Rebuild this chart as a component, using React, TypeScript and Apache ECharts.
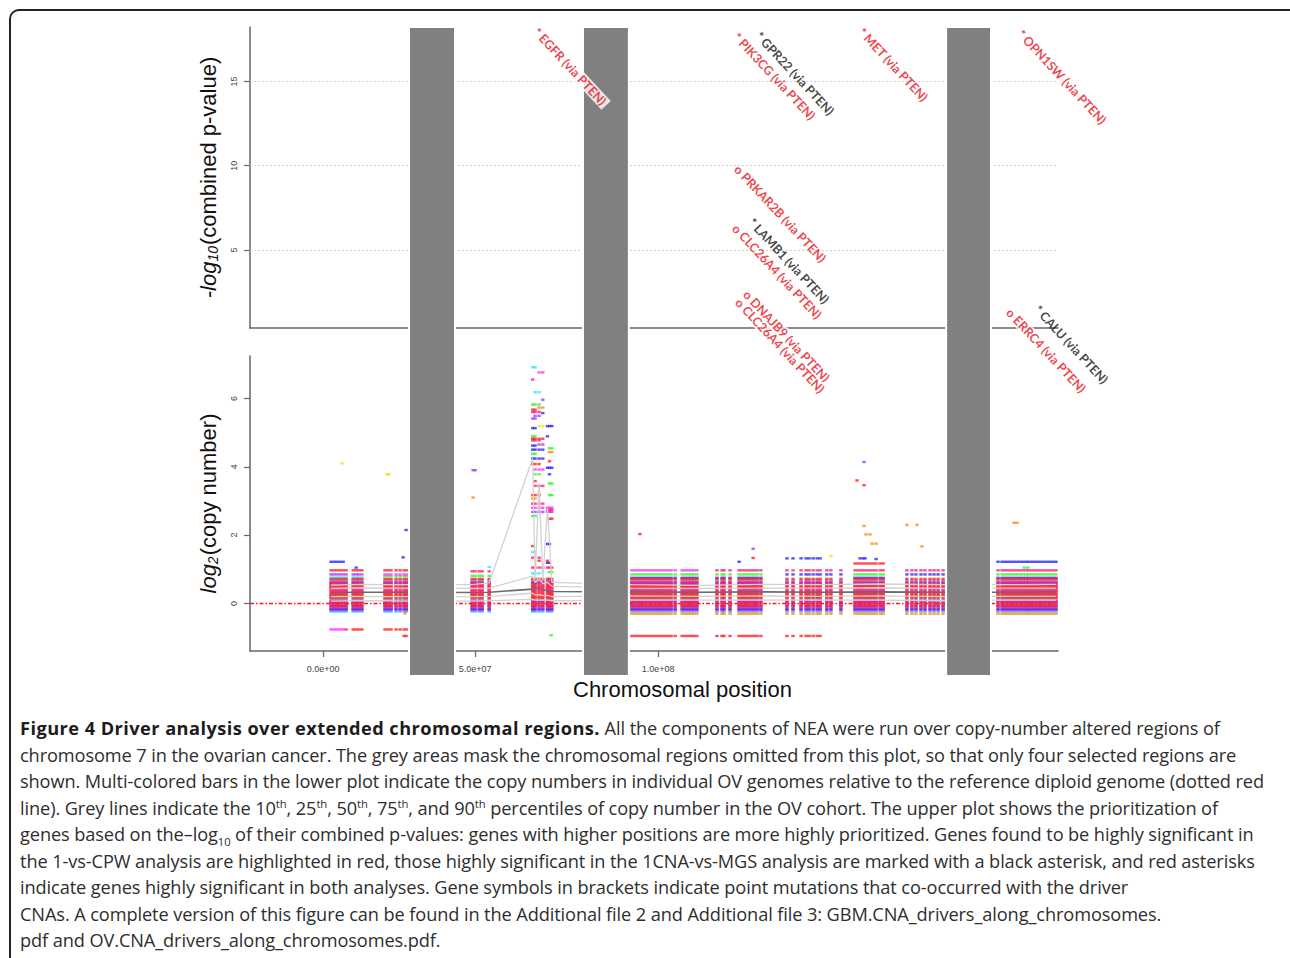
import React, { useEffect, useRef } from "react";
import * as echarts from "echarts";

const FONT = "'Liberation Sans', Arial, sans-serif";

// ---- colour codes used for individual genomes ----
const COLOR_CODES = ["c", "v", "b", "g", "y", "o", "m", "p", "r"];
const COLOR_VALUES = ["#2ee8ff", "#a838ff", "#2b2bff", "#33f533", "#f2e600", "#ff8a1c", "#ff33ff", "#ff1f7a", "#ff2424"];

// ---- axes ----
const X_MIN = -21.8;
const X_MAX = 219.4;
const X_TICK_VALUES = [0, 45.4, 100];
const X_TICK_LABELS = ["0.0e+00", "5.0e+07", "1.0e+08"];
const P_MIN = 0.36;
const P_MAX = 18.24;
const P_TICKS = [5, 10, 15];
const CN_MIN = -1.39;
const CN_MAX = 7.24;
const CN_TICKS = [0, 2, 4, 6];
const MASK_RANGES: [number, number][] = [[25.67, 39.4], [77.6, 91.3], [186.0, 199.4]];

// ---- upper plot: prioritised genes ----
const GENE_LABELS = [
  "* EGFR (via PTEN)", "* GPR22 (via PTEN)", "* PIK3CG (via PTEN)", "* MET (via PTEN)",
  "* OPN1SW (via PTEN)", "o PRKAR2B (via PTEN)", "* LAMB1 (via PTEN)", "o CLC26A4 (via PTEN)",
  "o DNAJB9 (via PTEN)", "o CLC26A4 (via PTEN)", "* CALU (via PTEN)", "o ERRC4 (via PTEN)",
];
const GENE_POS = [62.7, 129.0, 122.4, 159.7, 207.2, 122.7, 126.9, 122.1, 125.4, 123.0, 212.2, 203.9];
const GENE_SCORE = [18.2, 17.96, 17.9, 18.2, 18.08, 10.04, 6.89, 6.53, 2.6, 2.13, 1.71, 1.53];
const GENE_CLASS = ["red", "black", "red", "red", "red", "red", "black", "red", "red", "red", "black", "red"];
const GENE_BOX = [true, false, false, false, false, false, false, false, true, true, false, true];

// ---- lower plot: copy numbers ----
const DENSE_LEVELS = [-0.24, -0.2, -0.16, -0.12, -0.08, -0.04, 0, 0.04, 0.08, 0.12, 0.16, 0.2, 0.24, 0.28, 0.32, 0.36, 0.4, 0.44, 0.48, 0.52, 0.56, 0.6, 0.64, 0.68, 0.72];
const DENSE_COLORS = ["c", "v", "b", "p", "b", "r", "p", "b", "p", "c", "r", "p", "r", "p", "r", "p", "m", "r", "p", "r", "p", "b", "p", "c", "r"];

const A1A_COLS = [2.4, 3.3, 4.2, 5.1, 6.0];
const A1A_EXTRA: [number, string][] = [[1.22, "b"], [0.97, "r"], [0.85, "v"], [0.76, "c"], [-0.76, "m"]];
const A1B_COLS = [6.9, 9.0, 9.9, 10.7, 11.6];
const A1B_EXTRA: [number, string][] = [[0.97, "r"], [0.85, "v"], [0.76, "c"], [-0.76, "r"]];
const A2_COLS = [18.5, 19.4, 20.3, 21.8, 23.0, 24.2, 25.1];
const A2_EXTRA: [number, string][] = [[0.97, "r"], [0.85, "m"], [0.8, "g"], [-0.76, "r"]];
const B1_COLS = [44.5, 45.4, 46.6, 47.5, 49.6];
const B1_EXTRA: [number, string][] = [[0.94, "p"], [0.81, "g"]];
const C1_COLS = [92.2, 93.1, 94.0, 94.9, 95.8, 96.7, 97.6, 98.5, 99.4, 100.3, 101.2, 102.1, 103.0, 103.9, 105.1, 107.2, 108.1, 109.0, 109.9, 110.7, 111.6];
const C1_EXTRA: [number, string][] = [[0.97, "m"], [0.85, "g"], [0.75, "b"], [-0.3, "o"], [-0.95, "r"]];
const C2_COLS = [117.6, 119.1, 119.7, 121.5, 124.2, 125.1, 126.0, 126.9, 127.8, 128.7, 129.6, 130.7];
const C2_EXTRA: [number, string][] = [[0.97, "p"], [0.85, "g"], [0.75, "b"], [-0.3, "o"], [-0.95, "r"]];
const C3_COLS = [138.5, 140.3, 142.7, 144.2, 145.1, 146.3, 147.5, 148.4];
const C3_EXTRA: [number, string][] = [[1.32, "b"], [0.97, "p"], [0.85, "b"], [-0.3, "o"], [-0.95, "r"]];
const C4_COLS = [150.4, 151.6, 154.6];
const C4_EXTRA: [number, string][] = [[0.97, "p"], [0.85, "b"], [-0.3, "o"]];
const C5_COLS = [158.8, 159.7, 160.6, 161.5, 162.4, 163.3, 164.2, 165.1, 166.3, 167.2];
const C5_EXTRA: [number, string][] = [[1.17, "r"], [0.97, "p"], [0.85, "g"], [0.75, "b"], [-0.3, "o"]];
const C6_COLS = [174.3, 175.8, 177.0, 178.5, 179.7, 181.2, 182.4, 183.6, 185.1];
const C6_EXTRA: [number, string][] = [[0.97, "p"], [0.85, "b"], [-0.3, "o"]];
const D_COLS = [201.5, 202.7, 203.6, 204.5, 205.4, 206.3, 207.2, 208.1, 209.0, 209.9, 210.7, 211.6, 212.5, 213.4, 214.3, 215.2, 216.1, 217.0, 217.9, 218.8];
const D_EXTRA: [number, string][] = [[1.22, "b"], [0.97, "p"], [0.85, "g"], [0.75, "b"], [-0.3, "o"]];

const EGFR_COLS = [62.6, 63.3, 64.5, 65.6, 67.0, 67.6, 68.3];
const EGFR_ROWS: [number, string, number[]][] = [
  [6.91, "c", [0, 1]], [6.76, "m", [2, 3]], [6.55, "p", [0]], [6.18, "c", [1, 2]], [5.96, "v", [3]],
  [5.82, "g", [0, 1, 2]], [5.73, "o", [2, 3]], [5.67, "r", [0, 1]], [5.6, "p", [0, 1, 2]], [5.57, "b", [3]],
  [5.49, "v", [1, 2]], [5.41, "v", [0, 1]], [5.19, "b", [4, 5, 6]], [5.19, "y", [2, 3]], [5.13, "b", [0, 1]],
  [4.89, "g", [0, 1]], [4.89, "b", [4]], [4.82, "r", [0, 1, 2, 3]], [4.77, "p", [0, 1, 2]], [4.65, "v", [2, 3]],
  [4.62, "b", [0, 1]], [4.54, "g", [5, 6]], [4.5, "b", [0, 1, 2, 3]], [4.43, "o", [5, 6]], [4.38, "g", [0, 1]],
  [4.24, "b", [0, 1, 2, 3]], [4.16, "r", [5]], [4.08, "r", [0, 1, 2]], [3.97, "b", [4, 5, 6]], [3.92, "m", [1, 2, 3]],
  [3.78, "g", [1, 2]], [3.78, "b", [5]], [3.58, "r", [1]], [3.51, "g", [5, 6]], [3.44, "p", [1, 2, 3]],
  [3.25, "y", [2]], [3.17, "r", [0, 1, 2]], [3.17, "g", [5, 6]], [3.07, "o", [0, 1]], [2.92, "p", [0, 1, 2, 3]],
  [2.8, "m", [0, 1, 2, 3, 4, 5, 6]], [2.74, "p", [4, 5, 6]], [2.68, "v", [0, 1, 2, 3, 4, 5, 6]], [2.56, "g", [0, 1]],
  [2.48, "r", [5, 6]], [1.74, "b", [4, 5]], [1.68, "r", [0]], [1.51, "c", [0, 1]], [1.34, "p", [0, 2]],
  [1.25, "r", [2, 4]], [1.19, "b", [4, 5]], [1.05, "p", [0, 1, 2, 3, 4, 5, 6]], [0.92, "g", [5, 6]], [0.88, "c", [0, 1, 2]],
];

const OUTLIERS: [number, number, string][] = [
  [5.7, 4.1, "y"], [19.1, 3.78, "y"], [19.7, 3.78, "y"], [24.8, 2.15, "b"], [23.9, 1.35, "b"], [9.9, 1.05, "b"],
  [24.5, -0.29, "o"], [24.8, -0.95, "r"], [24.2, -0.95, "r"], [44.8, 3.9, "v"], [45.4, 3.9, "v"], [44.8, 3.1, "o"],
  [49.6, 1.07, "c"], [68.1, -0.93, "g"], [94.6, 2.03, "r"], [128.4, 1.6, "v"], [128.4, 1.33, "r"], [124.2, 1.22, "b"],
  [151.6, 1.39, "y"], [161.5, 4.14, "v"], [159.4, 3.6, "r"], [161.5, 3.46, "r"], [161.5, 2.27, "o"], [162.1, 2.02, "o"],
  [163.3, 2.02, "o"], [163.9, 1.75, "o"], [165.1, 1.75, "o"], [160.3, 1.32, "b"], [161.2, 1.32, "b"], [161.8, 1.32, "b"],
  [165.1, 1.3, "b"], [174.3, 2.3, "o"], [177.3, 2.3, "o"], [178.8, 1.67, "o"], [206.3, 2.36, "o"], [207.2, 2.36, "o"],
  [209.3, 1.05, "g"], [210.4, 1.05, "g"],
];

// ---- percentile lines (10th, 25th, 50th, 75th, 90th) ----
const PCT_X = [2.4, 11.6, 18.5, 25.1, 44.5, 49.6, 62.6, 63.3, 64.5, 65.6, 67.0, 68.3, 92.2, 112.5, 130.5, 148.4, 166.3, 185.1, 201.5, 218.8];
const P10 = [0.07, 0.08, 0.08, 0.07, 0.07, 0.08, 0.12, 0.1, 0.1, 0.1, 0.1, 0.08, 0.1, 0.1, 0.1, 0.1, 0.1, 0.08, 0.1, 0.1];
const P25 = [0.2, 0.21, 0.2, 0.2, 0.2, 0.21, 0.3, 0.25, 0.26, 0.24, 0.24, 0.2, 0.22, 0.21, 0.22, 0.21, 0.22, 0.2, 0.21, 0.21];
const P50 = [0.32, 0.33, 0.33, 0.33, 0.32, 0.33, 0.42, 0.45, 0.43, 0.4, 0.38, 0.35, 0.34, 0.33, 0.34, 0.33, 0.34, 0.33, 0.33, 0.34];
const P75 = [0.44, 0.46, 0.45, 0.45, 0.44, 0.45, 0.8, 0.62, 0.72, 0.58, 0.62, 0.5, 0.45, 0.44, 0.45, 0.45, 0.46, 0.44, 0.45, 0.45];
const P90 = [0.54, 0.56, 0.55, 0.55, 0.55, 0.6, 4.25, 0.72, 3.5, 0.68, 2.8, 0.62, 0.55, 0.53, 0.56, 0.55, 0.57, 0.55, 0.55, 0.56];

const CLUSTERS: [number[], [number, string][]][] = [
  [A1A_COLS, A1A_EXTRA], [A1B_COLS, A1B_EXTRA], [A2_COLS, A2_EXTRA], [B1_COLS, B1_EXTRA],
  [C1_COLS, C1_EXTRA], [C2_COLS, C2_EXTRA], [C3_COLS, C3_EXTRA], [C4_COLS, C4_EXTRA],
  [C5_COLS, C5_EXTRA], [C6_COLS, C6_EXTRA], [D_COLS, D_EXTRA],
];

function buildPoints(): Record<string, number[][]> {
  const out: Record<string, number[][]> = {};
  COLOR_CODES.forEach((c) => (out[c] = []));
  const addCol = (x: number, extra: [number, string][]) => {
    DENSE_LEVELS.forEach((v, i) => out[DENSE_COLORS[i]].push([x, v]));
    extra.forEach(([v, c]) => out[c].push([x, v]));
  };
  CLUSTERS.forEach(([cols, extra]) => cols.forEach((x) => addCol(x, extra)));
  EGFR_COLS.forEach((x) => addCol(x, []));
  EGFR_ROWS.forEach(([v, c, idx]) => idx.forEach((k) => out[c].push([EGFR_COLS[k], v])));
  OUTLIERS.forEach(([x, v, c]) => out[c].push([x, v]));
  return out;
}

const Y1_NAME = "{i|-log}{s|10}{n|(combined p-value)}";
const Y2_NAME = "{i|log}{s|2}{n|(copy number)}";
const nameRich = {
  i: { fontStyle: "italic", fontSize: 22, fontFamily: FONT, color: "#111" },
  s: { fontStyle: "italic", fontSize: 14, fontFamily: FONT, color: "#111", padding: [9, 1, 0, 0] },
  n: { fontSize: 22, fontFamily: FONT, color: "#111" },
};

function App() {
  const ref = useRef<HTMLDivElement>(null);
  useEffect(() => {
    if (!ref.current) return;
    const chart = echarts.init(ref.current, null, { renderer: "svg" });
    const pts = buildPoints();
    const axisLine = { show: true, onZero: false, lineStyle: { color: "#666", width: 1.5 } };
    const tickStyle = { color: "#666", width: 1.2 };
    const pointSeries = COLOR_CODES.map((c, i) => ({
      type: "scatter",
      xAxisIndex: 1,
      yAxisIndex: 1,
      symbol: "rect",
      symbolSize: [3.4, 2.4],
      itemStyle: { color: COLOR_VALUES[i] },
      data: pts[c],
      silent: true,
      z: 3,
    }));
    const pctSeries = [P10, P25, P50, P75, P90].map((arr, k) => ({
      type: "line",
      xAxisIndex: 1,
      yAxisIndex: 1,
      showSymbol: false,
      silent: true,
      z: k === 2 ? 6 : 5,
      lineStyle: { color: k === 2 ? "#6b6b6b" : "#d2d2d2", width: k === 2 ? 1.6 : 1.3 },
      data: PCT_X.map((x, i) => [x, arr[i]]),
    }));
    const option: any = {
      animation: false,
      grid: [
        { left: 250, top: 27, width: 808, height: 301 },
        { left: 250, top: 356, width: 808, height: 295 },
      ],
      xAxis: [
        {
          type: "value", gridIndex: 0, min: X_MIN, max: X_MAX,
          axisLine, axisTick: { show: false }, axisLabel: { show: false }, splitLine: { show: false },
        },
        {
          type: "value", gridIndex: 1, min: X_MIN, max: X_MAX,
          axisLine,
          axisTick: { show: true, customValues: X_TICK_VALUES, length: 6, lineStyle: tickStyle },
          axisLabel: {
            show: true, customValues: X_TICK_VALUES, margin: 13, fontSize: 9, color: "#444", fontFamily: FONT,
            formatter: (v: number) => X_TICK_LABELS[X_TICK_VALUES.indexOf(v)] ?? "",
          },
          splitLine: { show: false },
        },
      ],
      yAxis: [
        {
          type: "value", gridIndex: 0, min: P_MIN, max: P_MAX,
          axisLine,
          axisTick: { show: true, customValues: P_TICKS, length: 6, lineStyle: tickStyle },
          axisLabel: { show: true, customValues: P_TICKS, rotate: 90, margin: 12, fontSize: 9, color: "#444", fontFamily: FONT },
          splitLine: { show: false },
          name: Y1_NAME, nameLocation: "middle", nameGap: 30, nameRotate: 90,
          nameTextStyle: { rich: nameRich },
        },
        {
          type: "value", gridIndex: 1, min: CN_MIN, max: CN_MAX,
          axisLine,
          axisTick: { show: true, customValues: CN_TICKS, length: 6, lineStyle: tickStyle },
          axisLabel: { show: true, customValues: CN_TICKS, rotate: 90, margin: 12, fontSize: 9, color: "#444", fontFamily: FONT },
          splitLine: { show: false },
          name: Y2_NAME, nameLocation: "middle", nameGap: 30, nameRotate: 90,
          nameTextStyle: { rich: nameRich },
        },
      ],
      series: [
        {
          type: "line", xAxisIndex: 0, yAxisIndex: 0, data: [], silent: true,
          markLine: {
            silent: true, symbol: ["none", "none"], label: { show: false },
            lineStyle: { color: "#d0d0d0", type: [2, 2], width: 1 },
            data: P_TICKS.map((v) => ({ yAxis: v })),
          },
        },
        ...pointSeries,
        ...pctSeries,
        {
          type: "line", xAxisIndex: 1, yAxisIndex: 1, data: [], silent: true, z: 7,
          color: "#ff1a1a", itemStyle: { color: "#ff1a1a" },
          markLine: {
            silent: true, symbol: ["none", "none"], label: { show: false }, z: 7,
            lineStyle: { color: "#ff1a1a", type: [4, 2, 1.5, 2], width: 1.3, opacity: 1 },
            data: [{ yAxis: 0, lineStyle: { color: "#ff1a1a" } }],
          },
        },
        {
          type: "scatter", xAxisIndex: 0, yAxisIndex: 0, symbolSize: 1, clip: false, silent: true, z: 20,
          itemStyle: { color: "transparent" },
          label: {
            show: true, position: "right", distance: 0, rotate: -47, formatter: "{b}",
            fontFamily: "Lato, 'Open Sans', sans-serif", fontWeight: "bold", fontSize: 12.5,
            align: "left", verticalAlign: "middle", padding: [0, 3], lineHeight: 13,
          },
          labelLayout: { hideOverlap: false },
          data: GENE_LABELS.map((name, i) => ({
            name,
            value: [GENE_POS[i], GENE_SCORE[i]],
            label: {
              color: GENE_CLASS[i] === "black" ? "#151515" : "#e8141e",
              backgroundColor: GENE_BOX[i] ? "#ffffff" : "transparent",
            },
          })),
        },
      ],
    };
    chart.setOption(option);
    const masks = MASK_RANGES.map(([a, b]) => {
      const x1 = chart.convertToPixel({ xAxisIndex: 1 }, a) as number;
      const x2 = chart.convertToPixel({ xAxisIndex: 1 }, b) as number;
      return {
        type: "rect", z: 10, silent: true,
        shape: { x: x1, y: 27, width: x2 - x1, height: 649 },
        style: { fill: "#808080", stroke: "#ffffff", lineWidth: 2 },
      };
    });
    chart.setOption({
      graphic: [
        ...masks,
        {
          type: "text", z: 10, left: 573, top: 678,
          style: { text: "Chromosomal position", fontSize: 22, fontFamily: FONT, fill: "#111" },
        },
      ],
    });
    return () => chart.dispose();
  }, []);

  const sup = { fontSize: "0.62em", verticalAlign: "super", lineHeight: 0 } as const;
  const sub = { fontSize: "0.62em", verticalAlign: "sub", lineHeight: 0 } as const;
  return (
    <div style={{ position: "absolute", left: 0, top: 0, width: 1290, height: 958, overflow: "hidden", background: "#fff" }}>
      <div
        style={{
          position: "absolute", left: 9, top: 9, width: 1300, height: 1000,
          borderLeft: "2px solid #222", borderTop: "2px solid #222",
          borderTopLeftRadius: 10, boxSizing: "border-box",
        }}
      />
      <div ref={ref} style={{ position: "absolute", left: 0, top: 0, width: 1290, height: 705 }} />
      <div
        style={{
          position: "absolute", left: 20, top: 715, fontFamily: "'Open Sans', sans-serif", fontSize: 18.2,
          lineHeight: "26.5px", color: "#2e2e2e", whiteSpace: "nowrap", letterSpacing: "-0.1px",
        }}
      >
        <div>
          <b style={{ color: "#1c1c1c", letterSpacing: "0.45px" }}>Figure 4 Driver analysis over extended chromosomal regions.</b> All the components of NEA were run over copy-number altered regions of
        </div>
        <div>chromosome 7 in the ovarian cancer. The grey areas mask the chromosomal regions omitted from this plot, so that only four selected regions are</div>
        <div>shown. Multi-colored bars in the lower plot indicate the copy numbers in individual OV genomes relative to the reference diploid genome (dotted red</div>
        <div>
          line). Grey lines indicate the 10<sup style={sup}>th</sup>, 25<sup style={sup}>th</sup>, 50<sup style={sup}>th</sup>, 75<sup style={sup}>th</sup>, and 90<sup style={sup}>th</sup> percentiles of copy number in the OV cohort. The upper plot shows the prioritization of
        </div>
        <div>
          genes based on the–log<sub style={sub}>10</sub> of their combined p-values: genes with higher positions are more highly prioritized. Genes found to be highly significant in
        </div>
        <div>the 1-vs-CPW analysis are highlighted in red, those highly significant in the 1CNA-vs-MGS analysis are marked with a black asterisk, and red asterisks</div>
        <div>indicate genes highly significant in both analyses. Gene symbols in brackets indicate point mutations that co-occurred with the driver</div>
        <div>CNAs. A complete version of this figure can be found in the Additional file 2 and Additional file 3: GBM.CNA_drivers_along_chromosomes.</div>
        <div>pdf and OV.CNA_drivers_along_chromosomes.pdf.</div>
      </div>
    </div>
  );
}

export default App;
